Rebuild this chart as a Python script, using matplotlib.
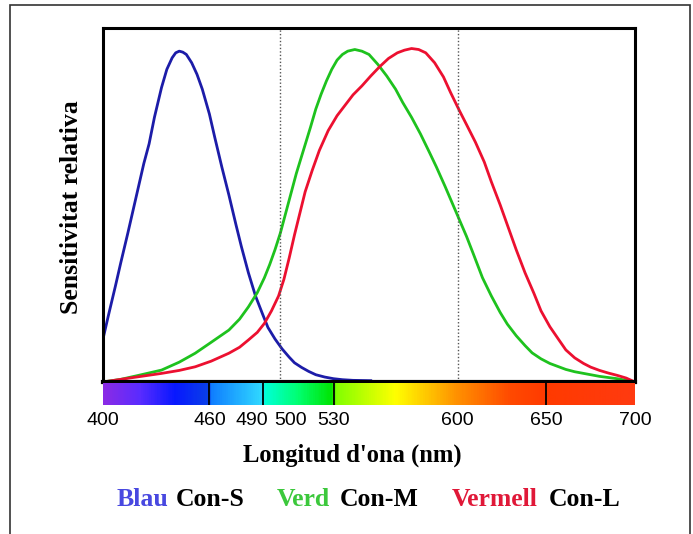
import numpy as np
import matplotlib
matplotlib.use("Agg")
import matplotlib.pyplot as plt
import matplotlib.transforms as mtransforms
from matplotlib.colors import LinearSegmentedColormap
from matplotlib.patches import Rectangle

# relative sensitivity of the three cone types
s_nm = [400, 403, 407, 410, 414, 417, 420, 423, 426, 429, 433, 436, 439, 441, 443, 445, 447, 450, 453, 456,
        460, 463, 467, 471, 475, 478, 482, 486, 490, 493, 497, 501, 505, 508, 512, 516, 520, 525, 530, 535,
        541, 551]
s_val = [0.13, 0.20, 0.29, 0.36, 0.45, 0.52, 0.59, 0.66, 0.72, 0.80, 0.89, 0.945, 0.98, 0.995, 1.0, 0.997,
         0.99, 0.965, 0.93, 0.885, 0.81, 0.74, 0.65, 0.565, 0.475, 0.41, 0.33, 0.26, 0.205, 0.165, 0.13, 0.10,
         0.075, 0.058, 0.044, 0.032, 0.022, 0.015, 0.01, 0.007, 0.005, 0.004]

m_nm = [400, 410, 420, 433, 443, 452, 461, 471, 477, 482, 487, 491, 494, 497, 500, 503, 506, 509, 513, 517,
        520, 523, 526, 529, 532, 535, 538, 542, 546, 550, 555, 560, 565, 569, 574, 579, 584, 588, 593, 597,
        601, 605, 609, 614, 619, 624, 628, 633, 638, 642, 647, 652, 657, 661, 666, 671, 680, 690, 700]
m_val = [0.0, 0.008, 0.02, 0.036, 0.06, 0.087, 0.12, 0.157, 0.19, 0.227, 0.27, 0.315, 0.355, 0.40, 0.45,
         0.51, 0.57, 0.63, 0.70, 0.77, 0.825, 0.87, 0.91, 0.945, 0.973, 0.99, 1.0, 1.005, 1.0, 0.99, 0.96,
         0.925, 0.885, 0.845, 0.80, 0.75, 0.695, 0.65, 0.59, 0.54, 0.49, 0.44, 0.385, 0.315, 0.26, 0.21,
         0.175, 0.14, 0.11, 0.088, 0.07, 0.056, 0.046, 0.038, 0.031, 0.026, 0.017, 0.01, 0.0]

l_nm = [400, 415, 433, 443, 452, 461, 471, 477, 482, 487, 491, 495, 499, 502, 505, 508, 511, 514, 518, 522,
        527, 532, 537, 541, 546, 551, 556, 561, 566, 570, 574, 578, 582, 587, 592, 596, 601, 605, 610, 615,
        619, 624, 628, 633, 638, 643, 647, 652, 657, 661, 666, 671, 675, 680, 685, 690, 695, 700]
l_val = [0.0, 0.012, 0.026, 0.035, 0.046, 0.063, 0.087, 0.105, 0.127, 0.15, 0.177, 0.215, 0.26, 0.31, 0.375,
         0.445, 0.51, 0.575, 0.64, 0.70, 0.76, 0.805, 0.84, 0.868, 0.895, 0.925, 0.953, 0.978, 0.995, 1.003,
         1.008, 1.005, 0.995, 0.965, 0.922, 0.875, 0.82, 0.778, 0.725, 0.665, 0.605, 0.535, 0.475, 0.40, 0.33,
         0.268, 0.215, 0.167, 0.128, 0.097, 0.073, 0.056, 0.045, 0.035, 0.027, 0.02, 0.012, 0.0]

tick_labels = [400, 460, 490, 500, 530, 600, 650, 700]
band_edges = [460, 490, 530, 650]
guide_lines = [500, 600]

spec_nm = [400, 420, 440, 459, 461, 489, 491, 510, 529, 531, 565, 600, 630, 650, 700]
spec_col = ["#8a2be6", "#5a2cff", "#0818ff", "#0a40e8", "#1080ff", "#30d8ff", "#00ffd8", "#00ff70",
            "#00e400", "#80ff00", "#ffff00", "#ff9000", "#ff4a00", "#ff3a00", "#ff3a10"]

fig = plt.figure(figsize=(6.93, 5.34), dpi=100)

# outer frame
fig.patches.append(Rectangle((10 / 693, -0.02), 680 / 693, 529 / 534 + 0.02,
                             transform=fig.transFigure, fill=False,
                             edgecolor="#333333", linewidth=1.2))

ax = fig.add_axes([103 / 693, 1 - 382 / 534, 532 / 693, 354 / 534])
ax.plot(s_nm, s_val, color="#1c1ca8", lw=2.0)
ax.plot(m_nm, m_val, color="#1ec21e", lw=2.0)
ax.plot(l_nm, l_val, color="#ec1030", lw=2.0)
for g in guide_lines:
    ax.axvline(g, color="#555555", lw=1.0, ls=(0, (1, 1.5)))
ax.set_xlim(400, 700)
ax.set_ylim(0, 1.07)
ax.set_xticks([])
ax.set_yticks([])
for sp in ax.spines.values():
    sp.set_linewidth(2.2)
ax.spines["bottom"].set_linewidth(3.0)

# spectrum bar
cax = fig.add_axes([103 / 693, 1 - 405 / 534, 532 / 693, 22 / 534])
pos = [(v - 400) / 300 for v in spec_nm]
cmap = LinearSegmentedColormap.from_list("spec", list(zip(pos, spec_col)))
grad = np.linspace(0, 1, 600).reshape(1, -1)
cax.imshow(grad, cmap=cmap, aspect="auto", extent=[400, 700, 0, 1])
for b in band_edges:
    cax.axvline(b, color="black", lw=1.3)
cax.set_xlim(400, 700)
cax.set_ylim(0, 1)
cax.set_yticks([])
cax.set_xticks(tick_labels)
cax.set_xticklabels([str(t) for t in tick_labels], fontfamily="Liberation Sans", fontsize=14)
cax.tick_params(axis="x", length=0, pad=5)
for sp in cax.spines.values():
    sp.set_visible(False)

# 490 and 500 sit close together: push them apart as in the original
for lab, t in zip(cax.get_xticklabels(), tick_labels):
    if t == 490:
        lab.set_transform(lab.get_transform() + mtransforms.ScaledTranslation(-11 / 100, 0, fig.dpi_scale_trans))
    elif t == 500:
        lab.set_transform(lab.get_transform() + mtransforms.ScaledTranslation(10 / 100, 0, fig.dpi_scale_trans))

serif = "Liberation Serif"
fig.text(71 / 693, 1 - 207 / 534, "Sensitivitat relativa", rotation=90, ha="center", va="center",
         fontfamily=serif, fontweight="bold", fontsize=18.5)
fig.text(352 / 693, 1 - 455 / 534, "Longitud d'ona (nm)", ha="center", va="center",
         fontfamily=serif, fontweight="bold", fontsize=17.7)

legend_items = [("Blau", "#4848e0", 117, "Con-S", 176),
                ("Verd", "#3cc83c", 277, "Con-M", 340),
                ("Vermell", "#e01838", 452, "Con-L", 549)]
for word, col, x0, cone, x1 in legend_items:
    fig.text(x0 / 693, 1 - 500 / 534, word, color=col, ha="left", va="center",
             fontfamily=serif, fontweight="bold", fontsize=18.5)
    fig.text(x1 / 693, 1 - 500 / 534, cone, color="black", ha="left", va="center",
             fontfamily=serif, fontweight="bold", fontsize=18.5)

fig.savefig("out.png", dpi=100)
